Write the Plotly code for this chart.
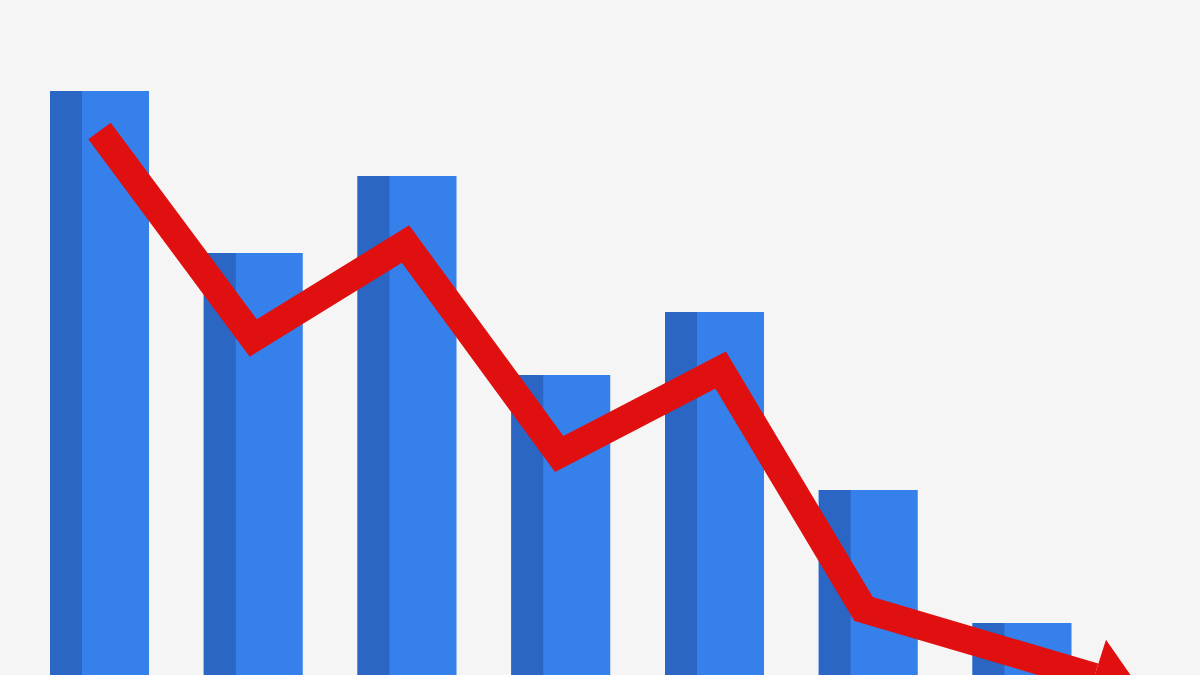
import plotly.graph_objects as go

bar_pos = [0, 1, 2, 3, 4, 5, 6]
bar_values = [584, 422, 499, 300, 363, 185, 52]

trend_x = [0.0, 1.0, 1.99, 2.99, 4.04, 4.97, 6.47]
trend_y = [544, 337, 431, 221, 305, 66, -2]

arrow_x = [6.574]
arrow_y = [-7.2]
arrow_angle = 17.7

BG = "#f5f5f5"
LIGHT = "#3580eb"
DARK = "#2b66c4"
RED = "#e01010"

fig = go.Figure()

fig.add_trace(go.Bar(
    x=bar_pos, y=bar_values, width=0.644,
    marker=dict(color=LIGHT, line=dict(width=0)),
    hoverinfo="skip", showlegend=False,
))
fig.add_trace(go.Bar(
    x=bar_pos, y=bar_values, width=0.208, offset=-0.322,
    marker=dict(color=DARK, line=dict(width=0)),
    hoverinfo="skip", showlegend=False,
))
fig.add_trace(go.Scatter(
    x=trend_x, y=trend_y, mode="lines",
    line=dict(color=RED, width=28),
    hoverinfo="skip", showlegend=False,
))
fig.add_trace(go.Scatter(
    x=arrow_x, y=arrow_y, mode="markers",
    marker=dict(symbol="triangle-right", size=68, angle=arrow_angle,
                color=RED, line=dict(width=0)),
    cliponaxis=True, hoverinfo="skip", showlegend=False,
))

fig.update_layout(
    width=1200, height=675,
    margin=dict(l=0, r=0, t=0, b=0),
    paper_bgcolor=BG, plot_bgcolor=BG,
    barmode="overlay",
    xaxis=dict(range=[-0.6472, 7.1577], visible=False, fixedrange=True),
    yaxis=dict(range=[0, 675], visible=False, fixedrange=True),
)

fig.write_html("out.html", config={"displayModeBar": False},
               post_script="document.body.style.margin='0';")
